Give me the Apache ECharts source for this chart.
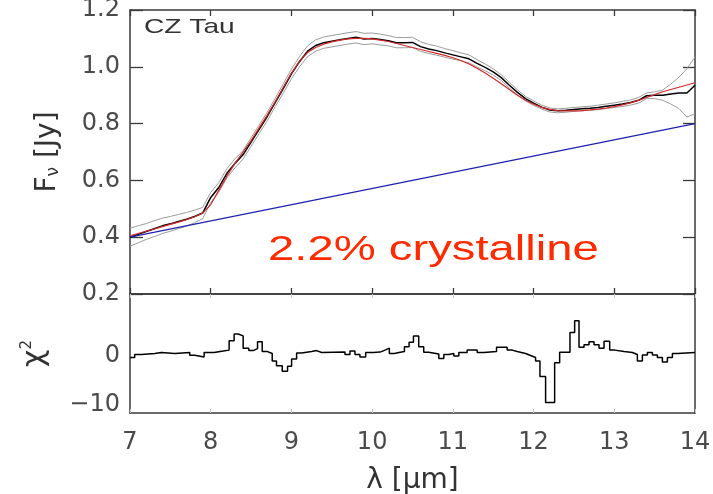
<!DOCTYPE html>
<html>
<head>
<meta charset="utf-8">
<script src="https://cdn.jsdelivr.net/npm/echarts@6/dist/echarts.min.js"></script>
<style>
html,body{margin:0;padding:0;background:#fff;}
#chart{width:713px;height:494px;}
</style>
</head>
<body>
<div id="chart"></div>
<script>
// ---- data ----
const wl = [7.0,7.1,7.2,7.3,7.4,7.5,7.6,7.7,7.8,7.9,
            8.0,8.1,8.2,8.3,8.4,8.5,8.6,8.7,8.8,8.9,
            9.0,9.1,9.2,9.3,9.4,9.5,9.6,9.7,9.8,9.9,
            10.0,10.1,10.2,10.3,10.4,10.5,10.6,10.7,10.8,10.9,
            11.0,11.1,11.2,11.3,11.4,11.5,11.6,11.7,11.8,11.9,
            12.0,12.1,12.2,12.3,12.4,12.5,12.6,12.7,12.8,12.9,
            13.0,13.1,13.2,13.3,13.4,13.5,13.6,13.7,13.8,13.9,14.0];
const flux = [0.400,0.410,0.420,0.430,0.440,0.447,0.455,0.463,0.473,0.485,
              0.540,0.575,0.625,0.660,0.690,0.735,0.780,0.825,0.875,0.924,
              0.975,1.018,1.055,1.075,1.085,1.090,1.095,1.100,1.104,1.098,
              1.100,1.096,1.092,1.085,1.085,1.086,1.071,1.063,1.057,1.049,
              1.042,1.035,1.028,1.012,0.998,0.982,0.962,0.935,0.910,0.888,
              0.872,0.858,0.848,0.845,0.847,0.850,0.852,0.854,0.857,0.861,
              0.865,0.869,0.874,0.882,0.898,0.900,0.900,0.904,0.908,0.908,0.935];
const fluxErr = [0.032,0.030,0.028,0.028,0.027,0.026,0.025,0.024,0.022,0.020,
                 0.018,0.017,0.016,0.016,0.015,0.015,0.015,0.015,0.015,0.016,
                 0.017,0.018,0.019,0.020,0.020,0.020,0.020,0.020,0.020,0.020,
                 0.019,0.019,0.018,0.018,0.018,0.018,0.017,0.016,0.016,0.015,
                 0.015,0.014,0.014,0.013,0.012,0.011,0.010,0.010,0.009,0.008,
                 0.008,0.007,0.007,0.007,0.007,0.007,0.007,0.007,0.008,0.008,
                 0.008,0.009,0.009,0.010,0.010,0.012,0.018,0.035,0.055,0.085,0.100];
const model = [0.405,0.413,0.421,0.429,0.437,0.445,0.453,0.462,0.472,0.485,
               0.515,0.565,0.615,0.660,0.700,0.740,0.785,0.830,0.878,0.928,
               0.978,1.020,1.050,1.068,1.080,1.088,1.094,1.098,1.100,1.100,
               1.098,1.094,1.089,1.082,1.075,1.068,1.061,1.054,1.047,1.040,
               1.032,1.022,1.010,0.995,0.978,0.960,0.940,0.920,0.900,0.882,
               0.868,0.857,0.850,0.846,0.845,0.845,0.846,0.848,0.851,0.855,
               0.860,0.866,0.873,0.882,0.892,0.902,0.912,0.920,0.928,0.936,0.944];
const contWl = [7.0, 14.0];
const contFlux = [0.40, 0.80];
// residual histogram: bin left edges (last value closes the final bin)
const chiWl = [7.000,7.058,7.141,7.306,7.389,7.554,7.740,7.802,7.918,8.042,
               8.154,8.228,8.290,8.340,8.402,8.472,8.526,8.580,8.638,8.704,
               8.762,8.815,8.886,8.952,9.002,9.064,9.126,9.250,9.312,9.374,
               9.663,9.725,9.787,9.849,9.920,10.015,10.098,10.160,10.213,10.275,
               10.333,10.400,10.458,10.512,10.577,10.639,10.701,10.826,10.888,10.950,
               11.012,11.074,11.177,11.301,11.384,11.541,11.673,11.735,11.797,11.901,
               11.963,12.025,12.079,12.149,12.261,12.323,12.451,12.509,12.563,12.625,
               12.687,12.749,12.811,12.873,12.943,13.005,13.121,13.224,13.286,13.348,
               13.410,13.472,13.534,13.596,13.658,13.720,13.782,14.000];
const chiVal = [-0.3,0.3,0.5,0.7,0.5,0.7,0.16,-0.2,0.7,1.0,
                1.2,3.1,4.5,4.1,1.6,1.1,1.5,2.9,0.9,0.5,
                -1.0,-2.0,-3.1,-2.1,-0.6,0.6,0.9,1.1,0.7,0.8,
                0.3,1.0,0.3,-0.2,0.7,0.8,1.2,1.6,0.5,0.7,
                0.9,1.9,2.8,4.1,1.9,0.75,0.4,-0.5,0.3,0.5,
                0.0,0.7,1.2,0.7,0.9,1.8,1.2,0.9,0.5,0.1,
                -0.3,-1.0,-4.2,-9.5,-1.4,0.75,4.8,7.2,1.8,2.3,
                2.9,2.3,1.6,3.0,1.2,0.9,0.7,0.3,-1.0,0.2,
                0.7,0.2,-0.3,-1.2,-0.3,0.5,0.7,0.7];
const chiLabelValues = [-10, 0];
const objectName = 'CZ Tau';
const annotation = '2.2% crystalline';

// ---- chart ----
const chart = echarts.init(document.getElementById('chart'), null, {renderer:'canvas'});
const AX = '#3a3a3a';
const LBL = '#4a4a4a';
const FONT = 'DejaVu Sans';
const upper = wl.map((w,i)=>[w, flux[i]+fluxErr[i]]);
const lower = wl.map((w,i)=>[w, flux[i]-fluxErr[i]]);
const obs = wl.map((w,i)=>[w, flux[i]]);
const mod = wl.map((w,i)=>[w, model[i]]);
const cont = contWl.map((w,i)=>[w, contFlux[i]]);
const chi = chiWl.map((w,i)=>[w, chiVal[i]]);

function xAx(grid, pos, opts){
  return Object.assign({
    type:'value', gridIndex:grid, position:pos, min:7, max:14, interval:1,
    axisLine:{show:true, onZero:false, lineStyle:{color:AX, width:1.5}},
    axisTick:{show:true, inside:true, length:6, lineStyle:{color:AX, width:1.3}},
    axisLabel:{show:false},
    splitLine:{show:false}
  }, opts||{});
}

const option = {
  animation:false,
  backgroundColor:'#fff',
  grid:[
    {left:130, top:10, width:565, height:284, containLabel:false, outerBoundsMode:'none'},
    {left:130, top:294, width:565, height:119, containLabel:false, outerBoundsMode:'none'}
  ],
  xAxis:[
    xAx(0,'bottom'),
    xAx(0,'top'),
    xAx(1,'bottom',{
      axisTick:{show:true, inside:true, length:4, lineStyle:{color:'#c8c8c8', width:1}},
      axisLabel:{show:true, margin:18, color:LBL, fontFamily:FONT, fontSize:24},
      name:'λ [μm]', nameLocation:'middle', nameGap:54,
      nameTextStyle:{color:'#333', fontFamily:FONT, fontSize:28}
    }),
    xAx(1,'top',{axisTick:{show:true, inside:true, length:4, lineStyle:{color:'#d0d0d0', width:1}}})
  ],
  yAxis:[
    {type:'value', gridIndex:0, position:'left', min:0.2, max:1.2, interval:0.2,
     axisLine:{show:true, onZero:false, lineStyle:{color:AX, width:1.5}},
     axisTick:{show:true, inside:true, length:13, lineStyle:{color:AX, width:1.3}},
     axisLabel:{show:true, margin:10, color:LBL, fontFamily:FONT, fontSize:24,
                formatter:v=>v.toFixed(1)},
     splitLine:{show:false},
     name:'{a|F}{s|ν}{a| [Jy]}', nameLocation:'middle', nameGap:68, nameRotate:90,
     nameTextStyle:{rich:{
       a:{color:'#333', fontFamily:FONT, fontSize:28},
       s:{color:'#333', fontFamily:FONT, fontSize:17, verticalAlign:'bottom'}
     }}},
    {type:'value', gridIndex:0, position:'right', min:0.2, max:1.2, interval:0.2,
     axisLine:{show:true, onZero:false, lineStyle:{color:AX, width:1.5}},
     axisTick:{show:true, inside:true, length:12, lineStyle:{color:AX, width:1.3}},
     axisLabel:{show:false}, splitLine:{show:false}},
    {type:'value', gridIndex:1, position:'left', min:-11.63, max:12.65,
     axisLine:{show:true, onZero:false, lineStyle:{color:AX, width:1.5}},
     axisTick:{show:false},
     axisLabel:{show:true, margin:10, color:LBL, fontFamily:FONT, fontSize:24,
                customValues:chiLabelValues,
                formatter:v=>(v<0?'\u2212'+Math.abs(v):String(v))},
     splitLine:{show:false},
     name:'{a|χ}{b|2}', nameLocation:'middle', nameGap:80, nameRotate:90,
     nameTextStyle:{rich:{
       a:{color:'#333', fontFamily:FONT, fontSize:30},
       b:{color:'#333', fontFamily:FONT, fontSize:15, verticalAlign:'top'}
     }}},
    {type:'value', gridIndex:1, position:'right', min:-11.63, max:12.65,
     axisLine:{show:true, onZero:false, lineStyle:{color:AX, width:1.5}},
     axisTick:{show:false}, axisLabel:{show:false}, splitLine:{show:false}}
  ],
  series:[
    {type:'line', xAxisIndex:0, yAxisIndex:0, data:upper, symbol:'none',
     lineStyle:{color:'#9c9c9c', width:1}, silent:true},
    {type:'line', xAxisIndex:0, yAxisIndex:0, data:lower, symbol:'none',
     lineStyle:{color:'#9c9c9c', width:1}, silent:true},
    {type:'line', xAxisIndex:0, yAxisIndex:0, data:obs, symbol:'none',
     lineStyle:{color:'#000', width:1.5}},
    {type:'line', xAxisIndex:0, yAxisIndex:0, data:mod, symbol:'none',
     lineStyle:{color:'#d42a2a', width:1.2}},
    {type:'line', xAxisIndex:0, yAxisIndex:0, data:cont, symbol:'none',
     lineStyle:{color:'#1f22b0', width:1.3}},
    {type:'line', xAxisIndex:2, yAxisIndex:2, data:chi, symbol:'none', step:'end',
     lineStyle:{color:'#000', width:1.5}}
  ],
  graphic:[
    {type:'text', x:144, y:27.5, scaleX:1.34, silent:true,
     style:{text:objectName, fontFamily:'Liberation Sans', fontSize:21, fill:'#333',
            align:'left', verticalAlign:'middle'}},
    {type:'text', x:268, y:250, scaleX:1.35, silent:true,
     style:{text:annotation, fontFamily:'Liberation Sans', fontSize:35, fill:'#ff2a00',
            align:'left', verticalAlign:'middle'}}
  ]
};
chart.setOption(option);
</script>
</body>
</html>
